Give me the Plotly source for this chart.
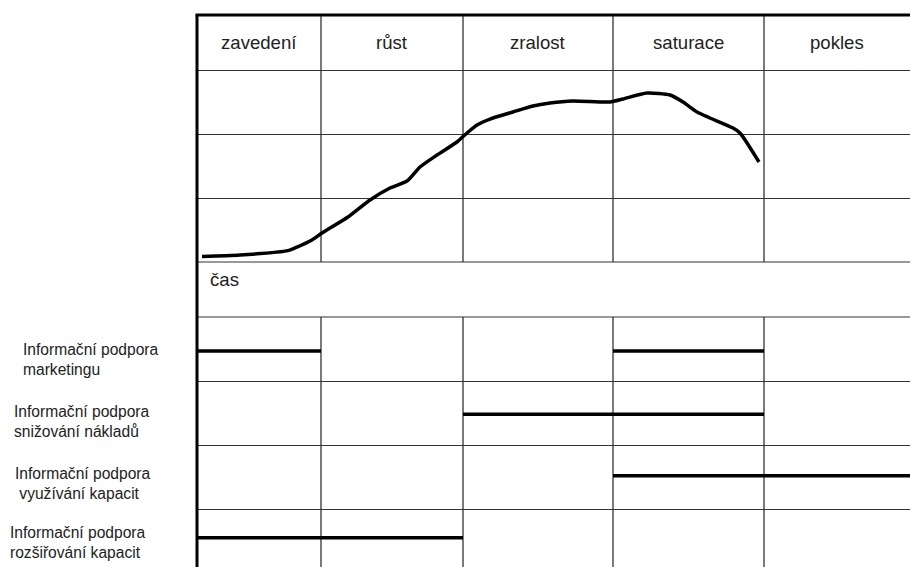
import plotly.graph_objects as go

W, H = 910, 567

# ---------------- data ----------------
phases = ["zavedení", "růst", "zralost", "saturace", "pokles"]
phase_edges = [0, 124, 266, 416, 567, 713]          # time units

curve_t = [5, 43, 91, 98, 115, 125, 151, 173, 193, 210, 223, 240, 260, 270, 280,
           293, 316, 336, 353, 376, 413, 426, 450, 473, 486, 500, 513, 536, 543, 562]
curve_v = [0.086, 0.109, 0.177, 0.219, 0.344, 0.453, 0.703, 0.969, 1.156, 1.266,
           1.484, 1.672, 1.875, 2.016, 2.141, 2.234, 2.344, 2.438, 2.484, 2.516,
           2.5, 2.547, 2.641, 2.609, 2.5, 2.344, 2.25, 2.094, 2.016, 1.5625]

support_labels = [
    "Informační podpora<br>marketingu",
    "Informační podpora<br>snižování nákladů",
    "Informační podpora<br>\u00a0využívání kapacit",
    "Informační podpora<br>rozšiřování kapacit",
]
support_levels = [0.53, 1.52, 2.48, 3.45]
# spans of phases (first phase index, last phase index) per row
support_spans = [
    [(0, 0), (3, 3)],
    [(2, 3)],
    [(3, 4)],
    [(0, 1)],
]
time_label = "čas"

# ---------------- layout helpers ----------------
FONT = "Liberation Sans, Arial, sans-serif"
TXT = "#222222"
x_left = 197
top_y0, top_y1 = 262, 15      # pixel rows of the curve panel (bottom, top)
bot_y0, bot_y1 = 567, 317     # pixel rows of the support panel
row_h = 64

def py(p):
    return 1 - p / H

fig = go.Figure()

# curve
fig.add_trace(go.Scatter(
    x=curve_t, y=curve_v, mode="lines",
    line=dict(color="black", width=3.5, shape="spline", smoothing=0.6),
    xaxis="x", yaxis="y", hoverinfo="skip", showlegend=False))

# support bars
for lvl, spans in zip(support_levels, support_spans):
    for a, b in spans:
        fig.add_trace(go.Scatter(
            x=[phase_edges[a], phase_edges[b + 1]], y=[lvl, lvl], mode="lines",
            line=dict(color="black", width=3.5),
            xaxis="x2", yaxis="y2", hoverinfo="skip", showlegend=False))

top_range = (top_y0 - top_y1) / row_h
bot_range = (bot_y0 - bot_y1) / row_h

xcommon = dict(domain=[x_left / W, 1], range=[phase_edges[0], phase_edges[-1]],
               tickvals=phase_edges[1:-1], showticklabels=False, ticks="",
               showgrid=True, gridcolor="#7a7a7a", gridwidth=2,
               zeroline=False, showline=False, fixedrange=True)

fig.update_layout(
    width=W, height=H,
    margin=dict(l=0, r=0, t=0, b=0),
    paper_bgcolor="white", plot_bgcolor="white",
    xaxis=dict(anchor="y", **xcommon),
    xaxis2=dict(anchor="y2", **xcommon),
    yaxis=dict(domain=[py(top_y0), py(top_y1)], range=[0, top_range],
               tickvals=[1, 2, 3], showticklabels=False, ticks="",
               showgrid=True, gridcolor="#333333", gridwidth=1,
               zeroline=False, showline=False, fixedrange=True),
    yaxis2=dict(domain=[py(bot_y0), py(bot_y1)], range=[bot_range, 0],
                tickvals=[1, 2, 3], showticklabels=False, ticks="",
                showgrid=True, gridcolor="#333333", gridwidth=1,
                zeroline=False, showline=False, fixedrange=True),
    showlegend=False,
)

shapes = []
# horizontal lines bounding the "čas" row
for p in (top_y0, bot_y1):
    shapes.append(dict(type="line", xref="paper", yref="paper",
                       x0=x_left / W, x1=1, y0=py(p), y1=py(p),
                       line=dict(color="#333333", width=1.2)))
# thick top border
shapes.append(dict(type="line", xref="paper", yref="paper",
                   x0=(x_left - 1.5) / W, x1=1, y0=py(top_y1), y1=py(top_y1),
                   line=dict(color="black", width=3)))
# thick left border
shapes.append(dict(type="line", xref="paper", yref="paper",
                   x0=x_left / W, x1=x_left / W, y0=0, y1=py(top_y1),
                   line=dict(color="black", width=3)))
fig.update_layout(shapes=shapes)

annotations = []
hdr_y = (3 + top_range) / 2
for i, name in enumerate(phases):
    annotations.append(dict(
        x=(phase_edges[i] + phase_edges[i + 1]) / 2, y=hdr_y, xref="x", yref="y",
        text=name, showarrow=False, xanchor="center", yanchor="middle",
        font=dict(family=FONT, size=18.6, color=TXT)))

annotations.append(dict(
    x=208 / W, y=py(279), xref="paper", yref="paper", text=time_label,
    showarrow=False, xanchor="left", yanchor="middle",
    font=dict(family=FONT, size=18.6, color=TXT)))

label_x = [21, 12, 13, 8]
label_y = [359.5, 421, 483, 542.5]
for lx, ly, txt in zip(label_x, label_y, support_labels):
    annotations.append(dict(
        x=lx / W, y=py(ly), xref="paper", yref="paper", text=txt,
        showarrow=False, xanchor="left", yanchor="middle", align="left",
        font=dict(family=FONT, size=15.6, color=TXT)))

fig.update_layout(annotations=annotations)

fig.write_html(
    "out.html",
    config={"displayModeBar": False, "staticPlot": True},
    post_script="document.body.style.margin='0';document.body.style.padding='0';"
                "document.body.style.overflow='hidden';",
)
